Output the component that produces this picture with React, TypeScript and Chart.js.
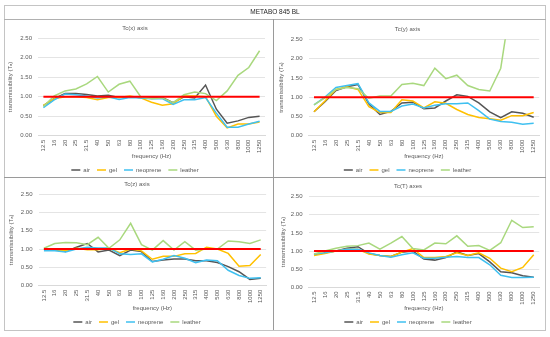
import React, { useEffect, useRef } from 'react';
import { Chart, registerables } from 'chart.js';

Chart.register(...registerables);

const FREQUENCIES = ['12.5', '16', '20', '25', '31.5', '40', '50', '63', '80', '100', '125', '160', '200', '250', '315', '400', '500', '630', '800', '1000', '1250'];
const Y_TICKS = [0, 0.5, 1, 1.5, 2, 2.5];
const SERIES_NAMES = ['air', 'gel', 'neoprene', 'leather'];
const REFERENCE_LEVEL = 1;

const X_AIR = [0.77, 0.95, 1.08, 1.08, 1.06, 1.02, 1.04, 0.98, 1.0, 0.98, 0.97, 0.98, 0.85, 1.0, 0.97, 1.3, 0.68, 0.32, 0.38, 0.47, 0.5];
const X_GEL = [0.78, 0.95, 1.0, 1.0, 0.98, 0.92, 0.98, 0.98, 1.02, 0.97, 0.86, 0.78, 0.82, 1.02, 1.02, 1.0, 0.5, 0.2, 0.3, 0.3, 0.35];
const X_NEOPRENE = [0.72, 0.92, 1.07, 1.05, 1.02, 0.97, 1.0, 0.93, 0.98, 0.97, 0.95, 0.95, 0.8, 0.92, 0.92, 0.98, 0.58, 0.22, 0.22, 0.3, 0.37];
const X_LEATHER = [0.75, 1.02, 1.15, 1.2, 1.33, 1.52, 1.12, 1.32, 1.4, 1.0, 0.95, 0.97, 0.85, 1.05, 1.12, 1.08, 0.9, 1.15, 1.55, 1.75, 2.18];

const Y_AIR = [0.62, 0.88, 1.17, 1.27, 1.33, 0.82, 0.55, 0.63, 0.85, 0.87, 0.7, 0.72, 0.9, 1.06, 1.02, 0.85, 0.62, 0.47, 0.62, 0.58, 0.48];
const Y_GEL = [0.62, 0.9, 1.2, 1.27, 1.2, 0.75, 0.6, 0.6, 0.93, 0.9, 0.72, 0.88, 0.84, 0.68, 0.55, 0.47, 0.44, 0.4, 0.52, 0.52, 0.6];
const Y_NEOPRENE = [0.8, 1.0, 1.25, 1.3, 1.35, 0.85, 0.63, 0.63, 0.77, 0.82, 0.72, 0.79, 0.83, 0.83, 0.85, 0.65, 0.43, 0.37, 0.35, 0.3, 0.32];
const Y_LEATHER = [0.8, 0.98, 1.2, 1.25, 1.22, 0.97, 1.03, 1.03, 1.33, 1.36, 1.3, 1.75, 1.48, 1.57, 1.3, 1.2, 1.16, 1.75, 3.6, 3.9, 4.2];

const Z_AIR = [1.0, 0.98, 0.93, 1.05, 1.15, 0.92, 0.97, 0.82, 0.97, 0.93, 0.66, 0.7, 0.73, 0.73, 0.68, 0.68, 0.63, 0.52, 0.38, 0.17, 0.2];
const Z_GEL = [1.0, 0.98, 0.95, 1.02, 0.98, 0.98, 1.02, 0.9, 1.0, 0.95, 0.72, 0.8, 0.8, 0.87, 0.88, 1.05, 1.0, 0.88, 0.53, 0.55, 0.85];
const Z_NEOPRENE = [0.95, 0.95, 0.92, 1.0, 1.05, 1.03, 1.03, 0.87, 0.85, 0.87, 0.65, 0.72, 0.82, 0.75, 0.63, 0.7, 0.68, 0.42, 0.28, 0.2, 0.22];
const Z_LEATHER = [1.02, 1.15, 1.18, 1.17, 1.12, 1.32, 1.02, 1.25, 1.7, 1.12, 0.97, 1.23, 0.97, 1.2, 0.97, 1.0, 1.0, 1.22, 1.2, 1.15, 1.25];

const T_AIR = [0.9, 0.95, 1.0, 1.08, 1.12, 0.93, 0.88, 0.85, 0.97, 1.0, 0.78, 0.75, 0.82, 0.98, 0.88, 0.93, 0.7, 0.43, 0.4, 0.32, 0.28];
const T_GEL = [0.88, 0.93, 1.0, 1.05, 1.05, 0.92, 0.88, 0.85, 0.97, 1.07, 0.82, 0.82, 0.85, 0.95, 0.88, 0.95, 0.8, 0.53, 0.43, 0.55, 0.9];
const T_NEOPRENE = [0.92, 0.95, 1.0, 1.05, 1.05, 0.95, 0.88, 0.83, 0.9, 0.95, 0.8, 0.8, 0.83, 0.85, 0.82, 0.82, 0.62, 0.33, 0.27, 0.27, 0.28];
const T_LEATHER = [0.92, 1.0, 1.08, 1.13, 1.15, 1.22, 1.05, 1.22, 1.4, 1.07, 1.03, 1.22, 1.2, 1.42, 1.13, 1.15, 1.02, 1.23, 1.85, 1.65, 1.67];

const COLORS = ['#555555', '#FFC000', '#3FC0F0', '#A9D87E'];
const RED = '#FF0000';
const TEXT = '#595959';
const GRID = '#e4e4e4';
const FONT = 'Liberation Sans, Arial, sans-serif';
const FS = 6;
const LH = FS * 1.2;
const LEG_PAD = 7;

type Spec = {
  title: string;
  series: number[][];
  left: number; top: number; width: number; height: number;
  area: { l: number; r: number; t: number; b: number };
  titleY: number; yTitleX: number;
};

const PANELS: Spec[] = [
  { title: 'Tc(x) axis', series: [X_AIR, X_GEL, X_NEOPRENE, X_LEATHER], left: 5, top: 20, width: 267, height: 163,
    area: { l: 38, r: 265, t: 38.3, b: 135.7 }, titleY: 28, yTitleX: 10 },
  { title: 'Tc(y) axis', series: [Y_AIR, Y_GEL, Y_NEOPRENE, Y_LEATHER], left: 274, top: 20, width: 271, height: 163,
    area: { l: 308.5, r: 541, t: 39.3, b: 135.7 }, titleY: 29, yTitleX: 281.7 },
  { title: 'Tc(z) axis', series: [Z_AIR, Z_GEL, Z_NEOPRENE, Z_LEATHER], left: 5, top: 178, width: 267, height: 157,
    area: { l: 38.5, r: 269, t: 194, b: 285.7 }, titleY: 184, yTitleX: 11.5 },
  { title: 'Tc(T) axes', series: [T_AIR, T_GEL, T_NEOPRENE, T_LEATHER], left: 274, top: 178, width: 271, height: 157,
    area: { l: 308.5, r: 542, t: 196.7, b: 287.3 }, titleY: 186.7, yTitleX: 283.3 },
];

function PanelChart({ spec }: { spec: Spec }) {
  const ref = useRef<HTMLCanvasElement>(null);
  useEffect(() => {
    const s = spec;
    const titlePadTop = s.titleY - s.top - LH / 2;
    const titlePadBottom = s.area.t - s.top - LH - titlePadTop;
    const yAxisWidth = s.area.l - s.left;
    const yTitlePad = s.yTitleX - s.left - LH / 2;
    const padRight = s.left + s.width - s.area.r;
    const legendHeight = FS + LEG_PAD + 10;
    const legendTop = s.height - legendHeight;
    const xAxisHeight = legendTop - (s.area.b - s.top);
    const font = { family: FONT, size: FS };

    const datasets: any[] = s.series.map((d, i) => ({
      label: SERIES_NAMES[i],
      data: d,
      borderColor: COLORS[i],
      backgroundColor: COLORS[i],
      borderWidth: 1.5,
      pointRadius: 0,
      tension: 0,
      order: 4 - i,
    }));
    datasets.push({
      label: 'reference',
      data: FREQUENCIES.map(() => REFERENCE_LEVEL),
      borderColor: RED,
      backgroundColor: RED,
      borderWidth: 2,
      pointRadius: 0,
      order: 0,
    });

    const chart = new Chart(ref.current as HTMLCanvasElement, {
      type: 'line',
      data: { labels: FREQUENCIES, datasets },
      options: {
        responsive: false,
        animation: false,
        devicePixelRatio: 1,
        layout: { padding: { left: 0, right: padRight, top: 0, bottom: 0 } },
        plugins: {
          tooltip: { enabled: false },
          title: {
            display: true,
            text: s.title,
            color: TEXT,
            font: { ...font, weight: 'normal' },
            padding: { top: titlePadTop, bottom: titlePadBottom },
          },
          legend: {
            display: true,
            position: 'bottom',
            labels: {
              usePointStyle: true,
              pointStyle: 'line',
              pointStyleWidth: 9,
              boxHeight: FS,
              padding: LEG_PAD,
              color: TEXT,
              font,
              filter: (item: any) => item.datasetIndex < 4,
              sort: (a: any, b: any) => a.datasetIndex - b.datasetIndex,
            },
          },
        },
        scales: {
          x: {
            type: 'category',
            offset: true,
            grid: { display: false, drawTicks: false },
            border: { display: true, color: '#d9d9d9' },
            ticks: { autoSkip: false, minRotation: 90, maxRotation: 90, padding: 4, color: TEXT, font },
            title: { display: true, text: 'frequency (Hz)', color: TEXT, font, padding: { top: 0, bottom: 0 } },
            afterFit: (scale: any) => { scale.height = xAxisHeight; },
          },
          y: {
            min: 0,
            max: 2.5,
            afterBuildTicks: (scale: any) => { scale.ticks = Y_TICKS.map((v) => ({ value: v })); },
            grid: { color: GRID, drawTicks: false },
            border: { display: false },
            ticks: { padding: 6, color: TEXT, font, callback: (v: any) => Number(v).toFixed(2) },
            title: { display: true, text: 'transmissibility (Tₐ)', color: TEXT, font, padding: { top: yTitlePad, bottom: 0 } },
            afterFit: (scale: any) => { scale.width = yAxisWidth; },
          },
        },
      },
    } as any);
    return () => chart.destroy();
  }, [spec]);
  return (
    <canvas
      ref={ref}
      width={spec.width}
      height={spec.height}
      style={{ position: 'absolute', left: spec.left, top: spec.top, width: spec.width, height: spec.height }}
    />
  );
}

const line = (l: number, t: number, w: number, h: number, c: string) => (
  <div style={{ position: 'absolute', left: l, top: t, width: w, height: h, background: c, pointerEvents: 'none' }} />
);

export default function App() {
  return (
    <div style={{ position: 'absolute', left: 0, top: 0, width: 550, height: 337, background: '#fff', overflow: 'hidden' }}>
      {PANELS.map((p) => (
        <PanelChart key={p.title} spec={p} />
      ))}
      <div style={{ position: 'absolute', left: 4, top: 5, width: 542, height: 326, border: '1px solid #c4c4c4', boxSizing: 'border-box', pointerEvents: 'none' }} />
      {line(4, 19, 542, 1, '#b0b0b0')}
      {line(273, 19, 1, 311, '#9a9a9a')}
      {line(4, 177, 542, 1, '#9a9a9a')}
      <div style={{ position: 'absolute', left: 4, top: 5, width: 542, height: 14, lineHeight: '14px', textAlign: 'center', fontFamily: FONT, fontSize: 6.5, color: '#262626' }}>
        METABO 845 BL
      </div>
    </div>
  );
}
